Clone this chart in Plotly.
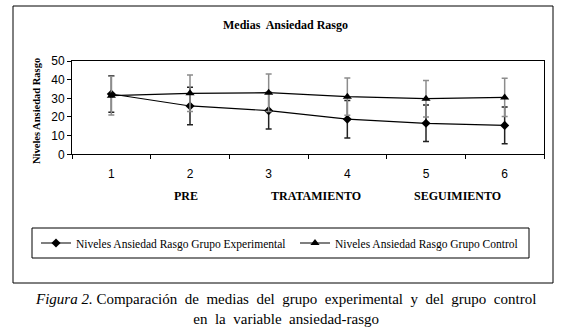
import plotly.graph_objects as go

W, H = 562, 332

categories = ["1", "2", "3", "4", "5", "6"]
exp_mean = [32.3, 25.9, 23.4, 18.8, 16.6, 15.5]
exp_sd = [9.8, 10.0, 9.8, 10.0, 9.8, 9.8]
ctl_mean = [31.4, 32.7, 33.0, 30.9, 29.8, 30.5]
ctl_sd = [10.4, 9.8, 10.0, 10.0, 9.8, 10.3]
phase_labels = ["PRE", "TRATAMIENTO", "SEGUIMIENTO"]
phase_pos = [0.95, 2.6, 4.4]  # category index positions
y_ticks = [0, 10, 20, 30, 40, 50]

def px(x):
    return x / W

def py(y):
    return 1 - y / H

SERIF = "Liberation Serif, Times New Roman, serif"
SANS = "Liberation Sans, Arial, sans-serif"

fig = go.Figure()
fig.add_trace(go.Scatter(
    x=categories, y=exp_mean, mode="lines+markers",
    name="Niveles Ansiedad Rasgo Grupo Experimental",
    line=dict(color="black", width=1.2),
    marker=dict(symbol="diamond", size=7, color="black"),
    error_y=dict(type="data", array=exp_sd, visible=True, color="#222222", thickness=1.5, width=3),
))
fig.add_trace(go.Scatter(
    x=categories, y=ctl_mean, mode="lines+markers",
    name="Niveles Ansiedad Rasgo Grupo Control",
    line=dict(color="black", width=1.2),
    marker=dict(symbol="triangle-up", size=8, color="black"),
    error_y=dict(type="data", array=ctl_sd, visible=True, color="#8c8c8c", thickness=1.5, width=3),
))

x0, x1, yt, yb = 72, 544, 61, 154.3

fig.update_layout(
    width=W, height=H,
    margin=dict(l=0, r=0, t=0, b=0, pad=0, autoexpand=False),
    paper_bgcolor="white", plot_bgcolor="white",
    showlegend=True,
    legend=dict(
        orientation="h", x=px(36), y=py(243), xanchor="left", yanchor="middle",
        font=dict(family=SERIF, size=11.5, color="black"),
        bgcolor="rgba(0,0,0,0)", borderwidth=0,
        entrywidth=214, itemwidth=30, tracegroupgap=0,
    ),
    xaxis=dict(
        domain=[px(x0), px(x1)], type="category", range=[-0.5, 5.5],
        showline=True, linecolor="black", linewidth=1, mirror=True,
        ticks="outside", tickson="boundaries", ticklen=4, tickcolor="black",
        showgrid=False, zeroline=False, automargin=False,
        tickfont=dict(family=SANS, size=12, color="black"),
    ),
    yaxis=dict(
        domain=[py(yb), py(yt)], range=[0, 50], tickvals=y_ticks,
        showline=True, linecolor="black", linewidth=1, mirror=True,
        ticks="outside", ticklen=4, tickcolor="black",
        showgrid=False, zeroline=False, automargin=False,
        tickfont=dict(family=SANS, size=12, color="black"),
    ),
)

fig.update_xaxes(ticklabelstandoff=8)

shapes = [
    dict(type="rect", xref="paper", yref="paper", x0=px(13), x1=px(553), y0=py(283), y1=py(6),
         line=dict(color="black", width=1)),
    dict(type="rect", xref="paper", yref="paper", x0=px(32), x1=px(529), y0=py(258), y1=py(228),
         line=dict(color="black", width=1)),
]
fig.update_layout(shapes=shapes)

ann = [
    dict(text="<b>Medias  Ansiedad Rasgo</b>", x=px(285), y=py(25), xref="paper", yref="paper",
         xanchor="center", yanchor="middle",
         showarrow=False, font=dict(family=SERIF, size=12, color="black")),
    dict(text="<b>Niveles Ansiedad Rasgo</b>", x=px(37), y=py(111), xref="paper", yref="paper",
         xanchor="center", yanchor="middle",
         showarrow=False, textangle=-90, font=dict(family=SERIF, size=10.5, color="black")),
    dict(text="<i>Figura 2.</i> Comparación  de  medias  del  grupo  experimental  y  del  grupo  control<br>en  la  variable  ansiedad-rasgo",
         x=px(285), y=py(309), xref="paper", yref="paper", showarrow=False, align="center",
         xanchor="center", yanchor="middle",
         font=dict(family=SERIF, size=15, color="black")),
]
for lab, pos in zip(phase_labels, phase_pos):
    ann.append(dict(text=f"<b>{lab}</b>", x=pos, y=py(196), xref="x", yref="paper",
                    xanchor="center", yanchor="middle",
                    showarrow=False, font=dict(family=SERIF, size=12, color="black")))
fig.update_layout(annotations=ann)

fig.write_html("out.html", config={"displayModeBar": False},
               post_script="document.body.style.margin='0';")
